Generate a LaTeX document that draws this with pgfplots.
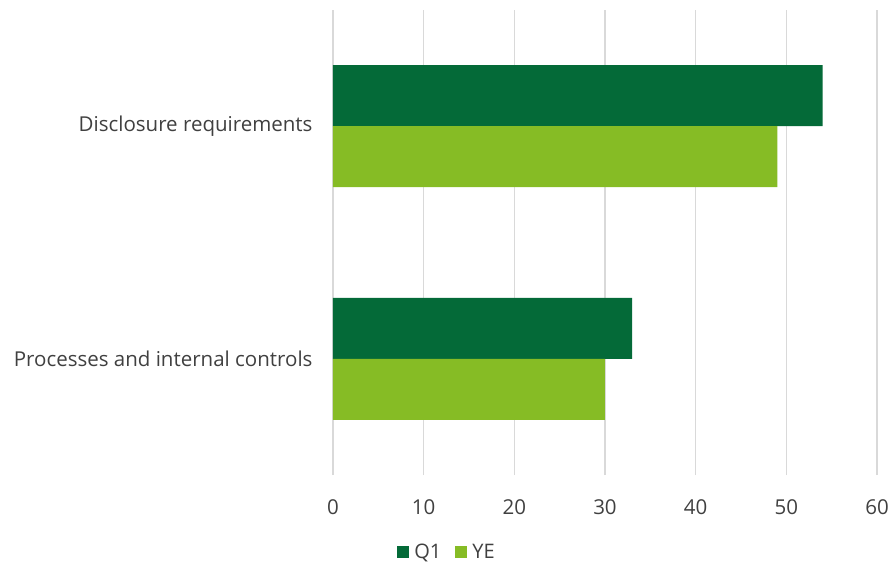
\documentclass[border=0pt]{standalone}
\usepackage{fontspec}
\setmainfont{Open Sans}
\usepackage{pgfplots}
\pgfplotsset{compat=1.18}
\definecolor{dkg}{HTML}{046A38}
\definecolor{ltg}{HTML}{86BC25}
\definecolor{txt}{HTML}{404040}
\definecolor{grd}{HTML}{D9D9D9}
\begin{document}
\begin{tikzpicture}
\useasboundingbox (-333pt,-88pt) rectangle (562pt,475pt);
\begin{axis}[
  at={(0,0)}, anchor=south west,
  scale only axis,
  width=544pt, height=465pt,
  xbar, bar width=61pt,
  xmin=0, xmax=60, ymin=-0.5, ymax=1.5,
  xtick={0,10,...,60},
  ytick={0,1},
  yticklabels={Processes and internal controls, Disclosure requirements},
  axis line style={draw=none},
  major tick length=0pt,
  xmajorgrids, grid style={grd, line width=1.2pt},
  tick label style={font=\fontsize{20.5}{24}\selectfont, text=txt},
  xticklabel style={yshift=-21pt},
  yticklabel style={xshift=-17pt},
  /pgf/number format/assume math mode=true,
  legend style={at={(0.2096,-0.1656)}, anchor=center, draw=none, legend columns=2,
    font=\fontsize{20}{24}\selectfont, text=txt,
    /tikz/every odd column/.append style={column sep=3pt},
    /tikz/every even column/.append style={column sep=12pt}},
  legend image code/.code={\fill[#1] (0pt,-6pt) rectangle (12pt,6pt);},
]
\addplot[fill=dkg, draw=none, bar shift=30.5pt] coordinates {(33,0) (54,1)};
\addplot[fill=ltg, draw=none, bar shift=-30.5pt] coordinates {(30,0) (49,1)};
\legend{Q1, YE}
\end{axis}
\end{tikzpicture}
\end{document}
